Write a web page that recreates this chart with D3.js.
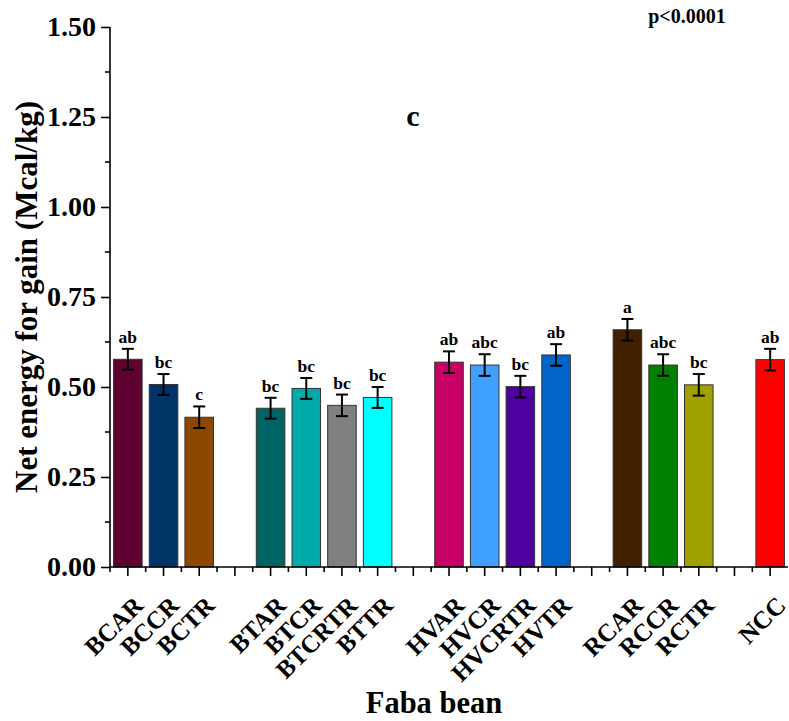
<!DOCTYPE html>
<html>
<head>
<meta charset="utf-8">
<script src="https://cdn.jsdelivr.net/npm/d3@7"></script>
<style>
  html, body { margin: 0; padding: 0; background: #ffffff; }
  svg { display: block; }
  text { font-family: "Liberation Serif", "Times New Roman", serif; font-weight: bold; fill: #000; }
</style>
</head>
<body>
<div id="chart"></div>
<script>
// ---- data ----
const slots = ["BCAR", "BCCR", "BCTR", "_g1", "BTAR", "BTCR", "BTCRTR", "BTTR", "_g2",
               "HVAR", "HVCR", "HVCRTR", "HVTR", "_g3", "RCAR", "RCCR", "RCTR", "_g4", "NCC"];
const categories = ["BCAR", "BCCR", "BCTR", "BTAR", "BTCR", "BTCRTR", "BTTR",
                    "HVAR", "HVCR", "HVCRTR", "HVTR", "RCAR", "RCCR", "RCTR", "NCC"];
const values = [0.577, 0.507, 0.416, 0.441, 0.496, 0.449, 0.471,
                0.569, 0.561, 0.501, 0.589, 0.659, 0.561, 0.506, 0.576];
const errors = [0.029, 0.029, 0.030, 0.029, 0.029, 0.030, 0.029,
                0.030, 0.030, 0.030, 0.030, 0.030, 0.030, 0.030, 0.030];
const letters = ["ab", "bc", "c", "bc", "bc", "bc", "bc",
                 "ab", "abc", "bc", "ab", "a", "abc", "bc", "ab"];
const colors = ["#600030", "#003366", "#8c4800", "#006464", "#00aaaa", "#808080", "#00ffff",
                "#c80064", "#40a0ff", "#5000a0", "#0064c8", "#402000", "#008000", "#a0a000", "#ff0000"];
const yTicks = [0, 0.25, 0.5, 0.75, 1.0, 1.25, 1.5];
const yMinorTicks = [0.125, 0.375, 0.625, 0.875, 1.125, 1.375];

const W = 789, H = 721;
const mLeft = 110, mRight = 788, mTop = 27, mBottom = 567;

const svg = d3.select("#chart").append("svg").attr("width", W).attr("height", H);

const x = d3.scaleBand().domain(slots).range([mLeft, mRight]).paddingInner(0.2).paddingOuter(0.1);
const y = d3.scaleLinear().domain([0, 1.5]).range([mBottom, mTop]);

const data = categories.map((c, i) => ({ c, v: values[i], e: errors[i], l: letters[i], col: colors[i] }));

// bars
svg.append("g").selectAll("rect").data(data).join("rect")
  .attr("x", d => x(d.c))
  .attr("width", x.bandwidth())
  .attr("y", d => y(d.v))
  .attr("height", d => y(0) - y(d.v))
  .attr("fill", d => d.col)
  .attr("stroke", "#333")
  .attr("stroke-width", 1);

// error bars
const eb = svg.append("g").attr("stroke", "#000").attr("stroke-width", 2);
data.forEach(d => {
  const cx = x(d.c) + x.bandwidth() / 2;
  eb.append("line").attr("x1", cx).attr("x2", cx).attr("y1", y(d.v + d.e)).attr("y2", y(d.v - d.e));
  eb.append("line").attr("x1", cx - 6).attr("x2", cx + 6).attr("y1", y(d.v + d.e)).attr("y2", y(d.v + d.e));
  eb.append("line").attr("x1", cx - 6).attr("x2", cx + 6).attr("y1", y(d.v - d.e)).attr("y2", y(d.v - d.e));
});

// significance letters
svg.append("g").selectAll("text").data(data).join("text")
  .attr("x", d => x(d.c) + x.bandwidth() / 2)
  .attr("y", d => y(d.v + d.e) - 6)
  .attr("text-anchor", "middle")
  .style("font-size", "17.5px")
  .text(d => d.l);

// y axis
const yAxis = svg.append("g").attr("transform", `translate(${mLeft},0)`)
  .call(d3.axisLeft(y).tickValues(yTicks).tickFormat(d3.format(".2f")).tickSize(9).tickPadding(5));
yAxis.select(".domain").attr("stroke-width", 1.6).attr("d", `M0,${mTop}V${mBottom}`);
yAxis.selectAll(".tick line").attr("stroke-width", 1.6);
yAxis.selectAll(".tick text").style("font-size", "28px").style("font-family", "Liberation Serif").style("font-weight", "bold");
yAxis.selectAll(".minor").data(yMinorTicks).join("line").attr("class", "minor")
  .attr("x1", 0).attr("x2", -5).attr("y1", d => y(d)).attr("y2", d => y(d))
  .attr("stroke", "#000").attr("stroke-width", 1.6);

// x axis
const xAxis = svg.append("g").attr("transform", `translate(0,${mBottom})`)
  .call(d3.axisBottom(x).tickSize(9).tickFormat(""));
xAxis.select(".domain").attr("stroke-width", 1.6).attr("d", `M${mLeft},0H${mRight}`);
xAxis.selectAll(".tick line").attr("stroke-width", 1.6);
const step = x.step();
const boundaries = slots.map((s) => x(s) + x.bandwidth() / 2 - step / 2);
xAxis.selectAll(".minor").data(boundaries).join("line").attr("class", "minor")
  .attr("x1", d => d).attr("x2", d => d).attr("y1", 0).attr("y2", 5)
  .attr("stroke", "#000").attr("stroke-width", 1.6);

// rotated x labels
svg.append("g").selectAll("text").data(categories).join("text")
  .attr("transform", d => `translate(${x(d) + x.bandwidth() / 2 + 17},${mBottom + 40}) rotate(-45)`)
  .attr("text-anchor", "end")
  .style("font-size", "25px")
  .text(d => d);

// axis titles
svg.append("text")
  .attr("transform", `translate(37,${(mTop + mBottom) / 2}) rotate(-90)`)
  .attr("text-anchor", "middle")
  .style("font-size", "31px")
  .text("Net energy for gain (Mcal/kg)");

svg.append("text")
  .attr("x", 434).attr("y", 713)
  .attr("text-anchor", "middle")
  .style("font-size", "30.5px")
  .text("Faba bean");

// annotations
svg.append("text").attr("x", 413).attr("y", 126).attr("text-anchor", "middle")
  .style("font-size", "30px").text("c");
svg.append("text").attr("x", 687).attr("y", 23).attr("text-anchor", "middle")
  .style("font-size", "20px").text("p<0.0001");
</script>
</body>
</html>
